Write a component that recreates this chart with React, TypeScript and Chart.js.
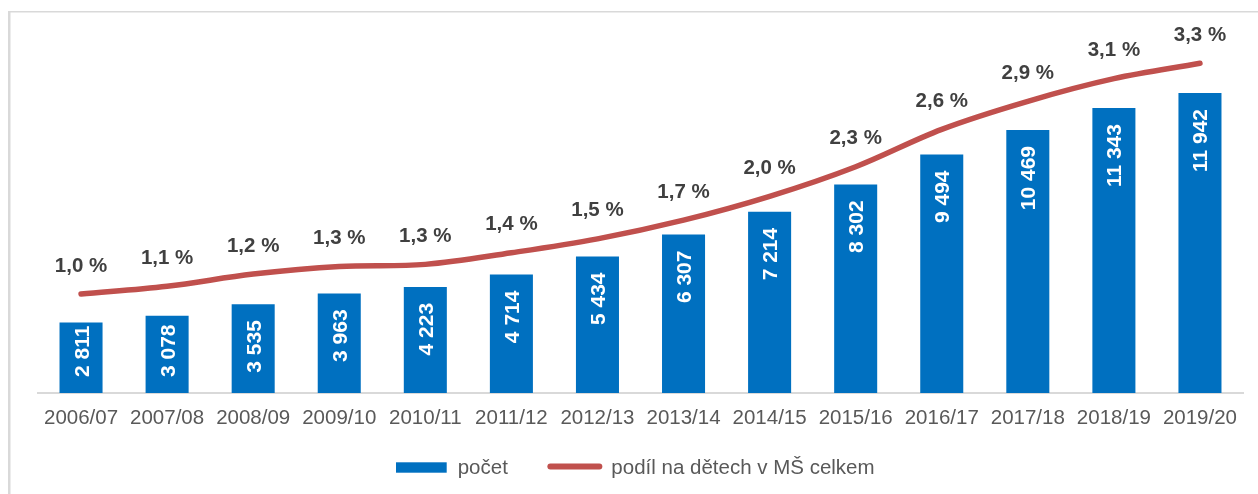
import React, { useEffect, useRef } from "react";
import { Chart, registerables } from "chart.js";

Chart.register(...registerables);

const categories = [
  "2006/07", "2007/08", "2008/09", "2009/10", "2010/11", "2011/12", "2012/13",
  "2013/14", "2014/15", "2015/16", "2016/17", "2017/18", "2018/19", "2019/20",
];
const counts = [2811, 3078, 3535, 3963, 4223, 4714, 5434, 6307, 7214, 8302, 9494, 10469, 11343, 11942];
const shares = [0.985, 1.062, 1.184, 1.26, 1.28, 1.396, 1.534, 1.72, 1.957, 2.252, 2.624, 2.903, 3.128, 3.281];
const countAxisMax = 14000;
const shareAxisMax = 3.5;
const legendLabels = ["počet", "podíl na dětech v MŠ celkem"];

const FONT = "'Liberation Sans', Arial, sans-serif";
const FS = 20.5;
const BAR_FS = 21;
const BLUE = "#0070C0";
const RED = "#C0504D";

const fmtCount = (n: number) => String(n).replace(/\B(?=(\d{3})+(?!\d))/g, " ");
const fmtShare = (s: number) => s.toFixed(1).replace(".", ",") + " %";

const labelsPlugin = {
  id: "labelsPlugin",
  afterDatasetsDraw(chart: any) {
    const ctx = chart.ctx;
    const capH = BAR_FS * 0.716;
    // bar labels
    const barMeta = chart.getDatasetMeta(1);
    ctx.save();
    ctx.font = `bold ${BAR_FS}px ${FONT}`;
    ctx.fillStyle = "#ffffff";
    ctx.textAlign = "right";
    ctx.textBaseline = "alphabetic";
    barMeta.data.forEach((el: any, i: number) => {
      const { x, y, base } = el.getProps(["x", "y", "base"], true);
      const text = fmtCount(counts[i]);
      const w = ctx.measureText(text).width;
      let anchor = y + 16;
      if (anchor + w > base - 16) anchor = base - 16 - w;
      ctx.save();
      ctx.translate(x + capH / 2, anchor);
      ctx.rotate(-Math.PI / 2);
      ctx.fillText(text, 0, 0);
      ctx.restore();
    });
    ctx.restore();
    // line labels
    const lineMeta = chart.getDatasetMeta(0);
    ctx.save();
    ctx.font = `bold ${FS}px ${FONT}`;
    ctx.fillStyle = "#404040";
    ctx.textAlign = "center";
    ctx.textBaseline = "alphabetic";
    lineMeta.data.forEach((pt: any, i: number) => {
      ctx.fillText(fmtShare(shares[i]), pt.x, pt.y - 22.5);
    });
    ctx.restore();
  },
};

const decorPlugin = {
  id: "decorPlugin",
  afterDraw(chart: any) {
    const ctx = chart.ctx;
    ctx.save();
    // frame
    ctx.fillStyle = "#d9d9d9";
    ctx.fillRect(8, 11, 2.5, 500);
    ctx.fillRect(8, 11, 1260, 1.5);
    // legend
    const y = 467.5;
    let x = 396;
    ctx.fillStyle = BLUE;
    ctx.fillRect(x, y - 5.2, 50.7, 10.4);
    x += 61.7;
    ctx.font = `${FS}px ${FONT}`;
    ctx.fillStyle = "#595959";
    ctx.textAlign = "left";
    ctx.textBaseline = "alphabetic";
    ctx.fillText(legendLabels[0], x, 473.7);
    x += ctx.measureText(legendLabels[0]).width + 39.5;
    ctx.strokeStyle = RED;
    ctx.lineWidth = 6;
    ctx.lineCap = "round";
    ctx.beginPath();
    ctx.moveTo(x + 3, y - 1);
    ctx.lineTo(x + 52, y - 1);
    ctx.stroke();
    x += 64;
    ctx.fillText(legendLabels[1], x, 473.7);
    ctx.restore();
  },
};

export default function App() {
  const ref = useRef<HTMLCanvasElement | null>(null);
  useEffect(() => {
    if (!ref.current) return;
    const chart = new Chart(ref.current, {
      type: "bar",
      data: {
        labels: categories,
        datasets: [
          {
            type: "line",
            label: legendLabels[1],
            data: shares,
            yAxisID: "y1",
            borderColor: RED,
            backgroundColor: RED,
            borderWidth: 5.5,
            tension: 0.35,
            pointRadius: 0,
            borderCapStyle: "round",
            borderJoinStyle: "round",
            fill: false,
            order: 0,
          } as any,
          {
            type: "bar",
            label: legendLabels[0],
            data: counts,
            yAxisID: "y",
            backgroundColor: BLUE,
            barPercentage: 0.5,
            categoryPercentage: 1,
            order: 1,
          } as any,
        ],
      },
      options: {
        responsive: false,
        animation: false,
        devicePixelRatio: 1,
        layout: { padding: { left: 38, right: 15, top: 41.3, bottom: 0 } },
        plugins: { legend: { display: false }, tooltip: { enabled: false } },
        scales: {
          x: {
            grid: { display: false, drawTicks: false },
            border: { display: true, color: "#d9d9d9", width: 2 },
            ticks: {
              color: "#595959",
              font: { family: FONT, size: FS },
              padding: 13.5,
              maxRotation: 0,
              autoSkip: false,
            },
            afterFit: (s: any) => {
              s.height = 101;
            },
          },
          y: { display: false, min: 0, max: countAxisMax },
          y1: { display: false, min: 0, max: shareAxisMax, position: "right" },
        },
      } as any,
      plugins: [labelsPlugin, decorPlugin],
    });
    return () => chart.destroy();
  }, []);
  return (
    <div style={{ position: "fixed", left: 0, top: 0, width: 1258, height: 494, background: "#fff" }}>
      <canvas ref={ref} width={1258} height={494} style={{ display: "block" }} />
    </div>
  );
}
